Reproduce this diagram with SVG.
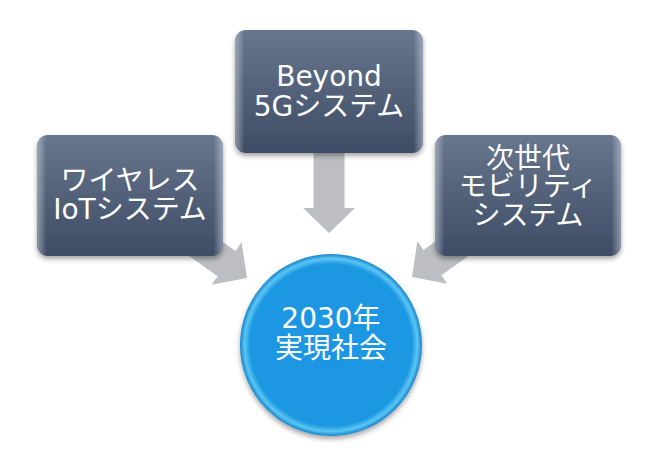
<svg xmlns="http://www.w3.org/2000/svg" width="655" height="454" viewBox="0 0 655 454">
<defs>
<linearGradient id="boxg" x1="0" y1="0" x2="0" y2="1">
<stop offset="0" stop-color="#67768d"/>
<stop offset="1" stop-color="#3e4c65"/>
</linearGradient>
<linearGradient id="edgeg" x1="0" y1="0" x2="1" y2="0">
<stop offset="0" stop-color="#dfe8f5" stop-opacity="0.45"/>
<stop offset="0.05" stop-color="#ffffff" stop-opacity="0"/>
<stop offset="0.95" stop-color="#ffffff" stop-opacity="0"/>
<stop offset="1" stop-color="#dfe8f5" stop-opacity="0.45"/>
</linearGradient>
<radialGradient id="circg" cx="0.5" cy="0.5" r="0.5">
<stop offset="0" stop-color="#1a96e2"/>
<stop offset="0.89" stop-color="#1b97e2"/>
<stop offset="0.95" stop-color="#5cc6f3"/>
<stop offset="1" stop-color="#1683cc"/>
</radialGradient>
<filter id="sh" x="-20%" y="-20%" width="140%" height="140%">
<feDropShadow dx="0" dy="3" stdDeviation="2.5" flood-color="#000" flood-opacity="0.35"/>
</filter>
<polygon id="arr" points="-90,-15.5 -25,-15.5 -25,-26 0,0 -25,26 -25,15.5 -90,15.5"/>
<style>
.box{fill:url(#boxg);filter:url(#sh)}
.edge{fill:url(#edgeg)}
.t{font-family:"DejaVu Sans","Noto Sans CJK JP",sans-serif;font-size:28px;fill:#fff;text-anchor:middle}
.a{fill:#bcbec3}
</style>
</defs>
<g id="connectors">
<use href="#arr" class="a" transform="translate(329,233) rotate(90)"/>
<use href="#arr" class="a" transform="translate(247,278) rotate(35.3)"/>
<use href="#arr" class="a" transform="translate(412,277) rotate(144.7)"/>
</g>
<g id="beyond5g">
<rect class="box" x="235" y="30" width="188" height="123" rx="11"/>
<rect class="edge" x="235" y="30" width="188" height="123" rx="11"/>
<text class="t" x="329" y="86">Beyond</text>
<text class="t" x="329" y="116">5Gシステム</text>
</g>
<g id="wireless-iot">
<rect class="box" x="37" y="135" width="186" height="121" rx="11"/>
<rect class="edge" x="37" y="135" width="186" height="121" rx="11"/>
<text class="t" x="130" y="190">ワイヤレス</text>
<text class="t" x="130" y="219">IoTシステム</text>
</g>
<g id="mobility">
<rect class="box" x="435" y="135" width="186" height="121" rx="11"/>
<rect class="edge" x="435" y="135" width="186" height="121" rx="11"/>
<text class="t" x="528" y="168">次世代</text>
<text class="t" x="528" y="196">モビリティ</text>
<text class="t" x="528" y="225">システム</text>
</g>
<g id="society2030">
<circle cx="331" cy="345" r="91" fill="url(#circg)" filter="url(#sh)"/>
<text class="t" x="331" y="328">2030年</text>
<text class="t" x="331" y="358">実現社会</text>
</g>
</svg>
